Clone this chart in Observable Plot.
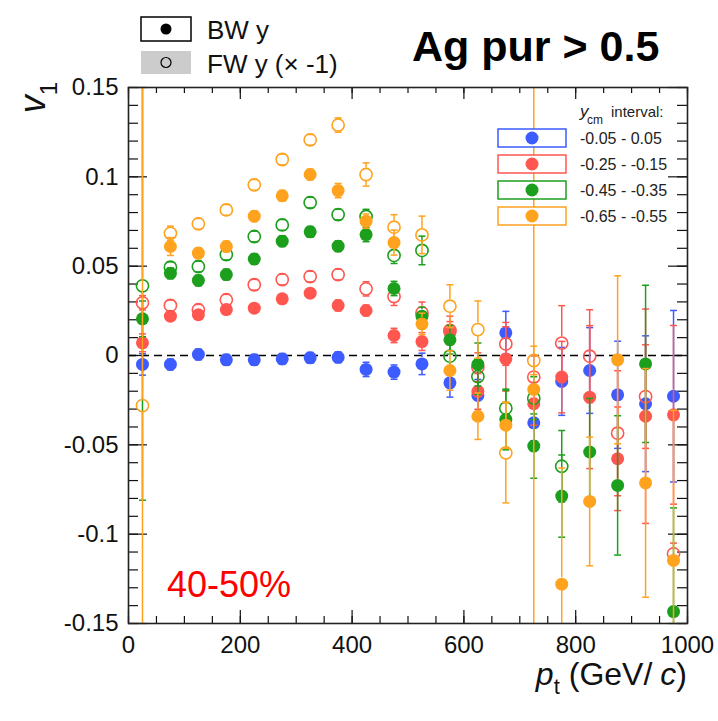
<!DOCTYPE html>
<html><head><meta charset="utf-8">
<script src="https://cdn.jsdelivr.net/npm/d3@7"></script>
<script src="https://cdn.jsdelivr.net/npm/@observablehq/plot@0.6"></script>
<style>
body{margin:0;background:#fff;}
svg{font-family:"Liberation Sans",Arial,Helvetica,sans-serif;}
</style>
</head><body><div id="chart"></div>
<script>
// ---- data ----
const pt = [25,75,125,175,225,275,325,375,425,475,525,575,625,675,725,775,825,875,925,975];

const blueBW    = [-0.005,-0.005,0.0006,-0.0024,-0.0024,-0.0019,-0.0013,-0.001,-0.0078,-0.0093,-0.0047,-0.0153,-0.0224,0.0127,-0.0377,-0.0145,-0.0084,-0.022,-0.027,-0.0228];
const blueBWErr = [0.006,0.003,0.003,0.003,0.003,0.003,0.003,0.003,0.004,0.004,0.006,0.008,0.009,0.012,0.01,0.019,0.024,0.03,0.038,0.048];

const redBW     = [0.0071,0.022,0.0228,0.0257,0.0265,0.0317,0.0349,0.028,0.0252,0.0112,0.0078,0.013,-0.0201,-0.0019,-0.027,-0.0121,-0.0233,-0.0578,-0.034,-0.0332];
const redBWErr  = [0.005,0.002,0.002,0.002,0.002,0.002,0.002,0.003,0.003,0.004,0.005,0.006,0.01,0.018,0.012,0.02,0.04,0.029,0.06,0.05];
const redFW     = [0.0295,0.028,0.0256,0.0312,0.0396,0.0425,0.0442,0.0453,0.0373,0.033,0.0239,0.014,-0.0065,0.0065,-0.0121,0.0069,-0.0004,-0.0435,-0.023,-0.111];
const redFWErr  = [0.004,0.003,0.003,0.003,0.003,0.003,0.003,0.003,0.004,0.005,0.006,0.008,0.008,0.012,0.012,0.021,0.026,0.035,0.029,0.006];

const greenBW    = [0.0205,0.046,0.042,0.0453,0.054,0.064,0.0692,0.0612,0.0677,0.0375,0.022,0.0088,-0.005,-0.0358,-0.0507,-0.0787,-0.054,-0.0727,-0.0047,-0.1433];
const greenBWErr = [0.01,0.003,0.003,0.003,0.003,0.003,0.003,0.003,0.004,0.004,0.005,0.008,0.012,0.017,0.018,0.023,0.03,0.039,0.044,0.058];
const greenFW    = [0.039,0.0494,0.0498,0.0565,0.0666,0.0731,0.0856,0.0789,0.0778,0.056,0.0588,-0.0004,-0.0118,-0.0295,-0.0239,-0.062,null,null,null,null];
const greenFWErr = [0.12,0.003,0.003,0.003,0.003,0.003,0.003,0.003,0.004,0.0045,0.008,0.008,0.01,0.01,0.012,0.02,null,null,null,null];

const orangeBW    = [null,0.061,0.0573,0.061,0.078,0.0894,0.1013,0.0923,0.0752,0.0632,0.0177,-0.0084,-0.034,-0.039,-0.019,-0.128,-0.0817,-0.0024,-0.0713,-0.1147];
const orangeBWErr = [null,0.005,0.003,0.003,0.003,0.003,0.003,0.004,0.004,0.007,0.006,0.011,0.013,0.013,0.3,0.065,0.036,0.047,0.064,0.084];
const orangeFW    = [-0.028,0.0684,0.0737,0.0815,0.0955,0.1097,0.1207,0.129,0.1013,0.0718,0.0675,0.0276,0.0145,-0.0545,-0.0028,null,null,null,null,null];
const orangeFWErr = [0.3,0.004,0.003,0.003,0.003,0.003,0.003,0.004,0.0065,0.007,0.0105,0.012,0.016,0.028,0.008,null,null,null,null,null];

const intervals = ["-0.05 - 0.05", "-0.25 - -0.15", "-0.45 - -0.35", "-0.65 - -0.55"];
const colors = ["#3d5cff", "#ff5750", "#1c9f1c", "#ffa31f"];

const xTicks = [0, 200, 400, 600, 800, 1000];
const xTickLabels = ["0", "200", "400", "600", "800", "1000"];
const yTicks = [-0.15, -0.1, -0.05, 0, 0.05, 0.1, 0.15];
const yTickLabels = ["-0.15", "-0.1", "-0.05", "0", "0.05", "0.1", "0.15"];
const xMinor = d3.range(0, 1001, 50);
const yMinor = d3.range(-15, 16).map(d => d / 100);

// ---- build rows ----
const bwVals = [blueBW, redBW, greenBW, orangeBW];
const bwErrs = [blueBWErr, redBWErr, greenBWErr, orangeBWErr];
const fwVals = [null, redFW, greenFW, orangeFW];
const fwErrs = [null, redFWErr, greenFWErr, orangeFWErr];

function rowsFor(vals, errs) {
  const out = [];
  if (!vals) return out;
  vals.forEach((v, i) => { if (v != null) out.push({pt: pt[i], v, e: errs[i] ?? 0}); });
  return out;
}

const W = 718, H = 721;
const mL = 128, mR = 31, mT = 87, mB = 98;
const innerW = W - mL - mR, innerH = H - mT - mB;
const R = 6.5;

const capSymbol = {draw(ctx, size) { const w = Math.sqrt(size / Math.PI); ctx.moveTo(-w, 0); ctx.lineTo(w, 0); }};

function seriesMarks(data, color, open) {
  const big = data.filter(d => d.e > 0.0038);
  const capped = data.filter(d => d.e > 0.0015);
  return [
    Plot.ruleX(big, {x: "pt", y1: d => d.v + d.e, y2: "v", insetBottom: R, stroke: color, strokeWidth: 1.5, clip: true}),
    Plot.ruleX(big, {x: "pt", y1: "v", y2: d => d.v - d.e, insetTop: R, stroke: color, strokeWidth: 1.5, clip: true}),
    Plot.dot(capped, {x: "pt", y: d => d.v + d.e, r: 3.5, symbol: capSymbol, stroke: color, strokeWidth: 1.5, fill: "none", clip: true}),
    Plot.dot(capped, {x: "pt", y: d => d.v - d.e, r: 3.5, symbol: capSymbol, stroke: color, strokeWidth: 1.5, fill: "none", clip: true}),
    open
      ? Plot.dot(data, {x: "pt", y: "v", r: R - 0.4, fill: "none", stroke: color, strokeWidth: 1.6, clip: true})
      : Plot.dot(data, {x: "pt", y: "v", r: R, fill: color, stroke: "none", clip: true})
  ];
}

const dataMarks = [];
for (let s = 0; s < 4; s++) {
  dataMarks.push(...seriesMarks(rowsFor(bwVals[s], bwErrs[s]), colors[s], false));
  dataMarks.push(...seriesMarks(rowsFor(fwVals[s], fwErrs[s]), colors[s], true));
}

const chart = Plot.plot({
  width: W, height: H,
  marginLeft: mL, marginRight: mR, marginTop: mT, marginBottom: mB,
  style: {fontFamily: "Liberation Sans, Arial, sans-serif", color: "#111", background: "#fff"},
  x: {domain: [0, 1000]},
  y: {domain: [-0.15, 0.15]},
  marks: [
    // ticks (inward, all four sides)
    Plot.tickX(xMinor, {x: d => d, insetTop: innerH - 7, stroke: "#111", strokeWidth: 1.2}),
    Plot.tickX(xTicks, {x: d => d, insetTop: innerH - 13, stroke: "#111", strokeWidth: 1.2}),
    Plot.tickX(xMinor, {x: d => d, insetBottom: innerH - 6, stroke: "#111", strokeWidth: 1.2}),
    Plot.tickX(xTicks, {x: d => d, insetBottom: innerH - 12, stroke: "#111", strokeWidth: 1.2}),
    Plot.tickY(yMinor, {y: d => d, insetRight: innerW - 10, stroke: "#111", strokeWidth: 1.2}),
    Plot.tickY(yTicks, {y: d => d, insetRight: innerW - 19, stroke: "#111", strokeWidth: 1.2}),
    Plot.tickY(yMinor, {y: d => d, insetLeft: innerW - 10, stroke: "#111", strokeWidth: 1.2}),
    Plot.tickY(yTicks, {y: d => d, insetLeft: innerW - 19, stroke: "#111", strokeWidth: 1.2}),
    Plot.ruleY([0], {stroke: "#000", strokeWidth: 1.6, strokeDasharray: "8,5"}),
    ...dataMarks,
    Plot.frame({stroke: "#222", strokeWidth: 1.6}),
    Plot.axisX(xTicks, {anchor: "bottom", tickSize: 0, tickPadding: 12, fontSize: 24, label: null,
      tickFormat: d => xTickLabels[xTicks.indexOf(d)]}),
    Plot.axisY(yTicks, {anchor: "left", tickSize: 0, tickPadding: 10, fontSize: 24, label: null,
      tickFormat: d => yTickLabels[yTicks.indexOf(d)]})
  ]
});

document.getElementById("chart").appendChild(chart);
const svg = d3.select(chart);
const txt = (x, y, size, fill) => svg.append("text").attr("x", x).attr("y", y)
  .attr("text-anchor", "start").attr("font-size", size).attr("fill", fill);

// y-axis title
const yl = svg.append("text").attr("transform", "translate(45,82) rotate(-90)")
  .attr("text-anchor", "end").attr("font-size", 36).attr("fill", "#111");
yl.append("tspan").attr("font-style", "italic").text("v");
yl.append("tspan").attr("font-size", 24).attr("dy", 12).text("1");

// x-axis title
const xl = svg.append("text").attr("x", 687).attr("y", 685)
  .attr("text-anchor", "end").attr("font-size", 32).attr("fill", "#111");
xl.append("tspan").attr("font-style", "italic").text("p");
xl.append("tspan").attr("font-size", 22).attr("dy", 9).text("t");
xl.append("tspan").attr("dy", -9).attr("dx", 9).text("(GeV/");
xl.append("tspan").attr("font-style", "italic").attr("dx", 8).text("c");
xl.append("tspan").text(")");

// title
txt(412, 61, 43, "#000").attr("font-weight", "bold").text("Ag pur > 0.5");

// top-left legend
svg.append("rect").attr("x", 141).attr("y", 17).attr("width", 50).attr("height", 24)
  .attr("fill", "#fff").attr("stroke", "#000").attr("stroke-width", 1.5);
svg.append("circle").attr("cx", 166).attr("cy", 29).attr("r", 5.5).attr("fill", "#000");
svg.append("rect").attr("x", 141).attr("y", 51).attr("width", 50).attr("height", 23).attr("fill", "#cccccc");
svg.append("circle").attr("cx", 166).attr("cy", 62.5).attr("r", 5).attr("fill", "none")
  .attr("stroke", "#000").attr("stroke-width", 1.2);
txt(207, 39, 26, "#111").text("BW y");
txt(207, 73, 26, "#111").text("FW y (\u00d7 -1)");

// right legend
txt(580, 117, 17, "#222").attr("font-style", "italic").text("y");
txt(587, 124, 12, "#222").text("cm");
txt(611, 117, 15, "#222").text("interval:");
intervals.forEach((lab, s) => {
  const cy = 138 + s * 26;
  svg.append("rect").attr("x", 498).attr("y", cy - 9).attr("width", 68).attr("height", 18)
    .attr("fill", "#fff").attr("stroke", colors[s]).attr("stroke-width", 1.5);
  svg.append("circle").attr("cx", 532).attr("cy", cy).attr("r", 6.5).attr("fill", colors[s]);
  txt(580, cy + 6, 16, "#222").text(lab);
});

// centrality label
txt(167, 597, 36, "#ff0000").text("40-50%");
</script>
</body></html>
